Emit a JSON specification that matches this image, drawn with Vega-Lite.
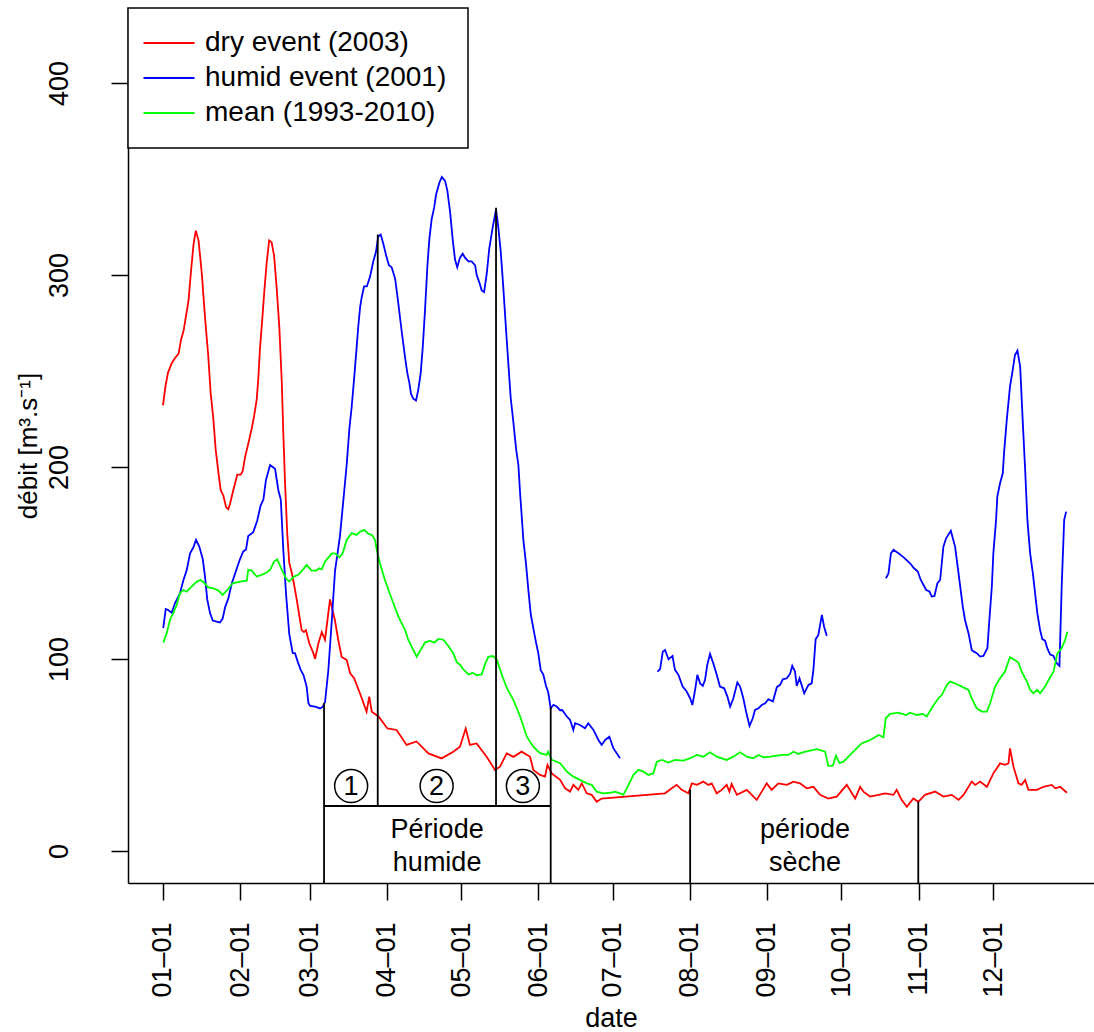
{
"$schema": "https://vega.github.io/schema/vega-lite/v6.json",
"width": 966, "height": 875,
"autosize": "none",
"padding": {"left": 128, "top": 8, "right": 0, "bottom": 149},
"background": "white",
"config": {"view": {"stroke": null}, "font": "Liberation Sans", "legend": {"strokeWidth": 1.5}},
"datasets": {
"segments": [
 {"d1": 64.8, "d2": 64.8, "q1": 77, "q2": -16.7},
 {"d1": 86.4, "d2": 86.4, "q1": 321, "q2": 23.4},
 {"d1": 134, "d2": 134, "q1": 335, "q2": 23.4},
 {"d1": 156, "d2": 156, "q1": 75, "q2": -16.7},
 {"d1": 64.8, "d2": 156, "q1": 23.4, "q2": 23.4},
 {"d1": 212.1, "d2": 212.1, "q1": 32, "q2": -16.7},
 {"d1": 303.9, "d2": 303.9, "q1": 25.7, "q2": -16.7}
],
"phases": [
 {"day": 75.7, "flow": 33.8, "label": "1"},
 {"day": 110.1, "flow": 33.8, "label": "2"},
 {"day": 144.8, "flow": 33.8, "label": "3"}
],
"texts": [
 {"day": 110.3, "flow": 10.9, "label": "Période"},
 {"day": 110.3, "flow": -6.3, "label": "humide"},
 {"day": 258.3, "flow": 10.9, "label": "période"},
 {"day": 258.3, "flow": -6.3, "label": "sèche"}
],
"flows": [
{"series":"dry event (2003)","day":0,"flow":232},{"series":"dry event (2003)","day":1,"flow":242},{"series":"dry event (2003)","day":2,"flow":249},{"series":"dry event (2003)","day":3.5,"flow":254},{"series":"dry event (2003)","day":5,"flow":257},{"series":"dry event (2003)","day":6.3,"flow":259},{"series":"dry event (2003)","day":7.2,"flow":266},{"series":"dry event (2003)","day":8.3,"flow":271},{"series":"dry event (2003)","day":10.3,"flow":287},{"series":"dry event (2003)","day":11.2,"flow":301},{"series":"dry event (2003)","day":12.3,"flow":316},{"series":"dry event (2003)","day":13.2,"flow":323},{"series":"dry event (2003)","day":14.3,"flow":318},{"series":"dry event (2003)","day":15.6,"flow":301},{"series":"dry event (2003)","day":16.9,"flow":278},{"series":"dry event (2003)","day":18.2,"flow":258},{"series":"dry event (2003)","day":19.2,"flow":238},{"series":"dry event (2003)","day":20.2,"flow":226},{"series":"dry event (2003)","day":21.2,"flow":209},{"series":"dry event (2003)","day":22.3,"flow":197},{"series":"dry event (2003)","day":23.2,"flow":188},{"series":"dry event (2003)","day":24.3,"flow":185},{"series":"dry event (2003)","day":25.4,"flow":179},{"series":"dry event (2003)","day":26.3,"flow":178},{"series":"dry event (2003)","day":27,"flow":181},{"series":"dry event (2003)","day":28.3,"flow":188},{"series":"dry event (2003)","day":29.9,"flow":196},{"series":"dry event (2003)","day":31.3,"flow":196},{"series":"dry event (2003)","day":32.1,"flow":198},{"series":"dry event (2003)","day":33,"flow":205},{"series":"dry event (2003)","day":34.3,"flow":212},{"series":"dry event (2003)","day":35.7,"flow":220},{"series":"dry event (2003)","day":36.6,"flow":226},{"series":"dry event (2003)","day":37.7,"flow":235},{"series":"dry event (2003)","day":38.4,"flow":247},{"series":"dry event (2003)","day":39,"flow":261},{"series":"dry event (2003)","day":40,"flow":278},{"series":"dry event (2003)","day":40.8,"flow":292},{"series":"dry event (2003)","day":41.7,"flow":306},{"series":"dry event (2003)","day":42.7,"flow":318},{"series":"dry event (2003)","day":43.7,"flow":317},{"series":"dry event (2003)","day":44.7,"flow":310},{"series":"dry event (2003)","day":45.7,"flow":294},{"series":"dry event (2003)","day":46.8,"flow":273},{"series":"dry event (2003)","day":47.8,"flow":244},{"series":"dry event (2003)","day":48.4,"flow":218},{"series":"dry event (2003)","day":49.1,"flow":192},{"series":"dry event (2003)","day":50,"flow":165},{"series":"dry event (2003)","day":50.8,"flow":150},{"series":"dry event (2003)","day":51.8,"flow":145},{"series":"dry event (2003)","day":52.7,"flow":139},{"series":"dry event (2003)","day":53.8,"flow":131},{"series":"dry event (2003)","day":54.9,"flow":122},{"series":"dry event (2003)","day":55.8,"flow":115},{"series":"dry event (2003)","day":56.7,"flow":114},{"series":"dry event (2003)","day":57.5,"flow":115},{"series":"dry event (2003)","day":58.9,"flow":108},{"series":"dry event (2003)","day":60.5,"flow":103},{"series":"dry event (2003)","day":61.2,"flow":100},{"series":"dry event (2003)","day":62.5,"flow":108},{"series":"dry event (2003)","day":63.9,"flow":114},{"series":"dry event (2003)","day":65.2,"flow":110},{"series":"dry event (2003)","day":67.2,"flow":131},{"series":"dry event (2003)","day":69.2,"flow":120},{"series":"dry event (2003)","day":70.5,"flow":110},{"series":"dry event (2003)","day":71.9,"flow":101},{"series":"dry event (2003)","day":73.9,"flow":99.5},{"series":"dry event (2003)","day":75.3,"flow":92.5},{"series":"dry event (2003)","day":76.9,"flow":90},{"series":"dry event (2003)","day":80,"flow":79.5},{"series":"dry event (2003)","day":81.9,"flow":72.5},{"series":"dry event (2003)","day":83,"flow":80.4},{"series":"dry event (2003)","day":84,"flow":72.5},{"series":"dry event (2003)","day":86.7,"flow":70},{"series":"dry event (2003)","day":90.3,"flow":63.8},{"series":"dry event (2003)","day":94,"flow":63},{"series":"dry event (2003)","day":98,"flow":55.2},{"series":"dry event (2003)","day":102,"flow":57},{"series":"dry event (2003)","day":106.8,"flow":50.8},{"series":"dry event (2003)","day":112.1,"flow":48.2},{"series":"dry event (2003)","day":116.8,"flow":51.7},{"series":"dry event (2003)","day":119.5,"flow":54.3},{"series":"dry event (2003)","day":121.8,"flow":63.8},{"series":"dry event (2003)","day":123.5,"flow":55.2},{"series":"dry event (2003)","day":126.2,"flow":56},{"series":"dry event (2003)","day":130.2,"flow":49.1},{"series":"dry event (2003)","day":133.6,"flow":42.2},{"series":"dry event (2003)","day":135.6,"flow":43.9},{"series":"dry event (2003)","day":138.3,"flow":50.8},{"series":"dry event (2003)","day":141,"flow":49},{"series":"dry event (2003)","day":144.3,"flow":51.7},{"series":"dry event (2003)","day":147.7,"flow":49},{"series":"dry event (2003)","day":149,"flow":42.2},{"series":"dry event (2003)","day":151.7,"flow":39.6},{"series":"dry event (2003)","day":153.7,"flow":38.7},{"series":"dry event (2003)","day":154.7,"flow":44.8},{"series":"dry event (2003)","day":156.4,"flow":40.4},{"series":"dry event (2003)","day":159.8,"flow":37},{"series":"dry event (2003)","day":161.8,"flow":32.6},{"series":"dry event (2003)","day":163.8,"flow":30.9},{"series":"dry event (2003)","day":165.1,"flow":34.4},{"series":"dry event (2003)","day":167.1,"flow":31.8},{"series":"dry event (2003)","day":168.5,"flow":35.2},{"series":"dry event (2003)","day":170.5,"flow":30},{"series":"dry event (2003)","day":172.5,"flow":29.2},{"series":"dry event (2003)","day":174.5,"flow":25.6},{"series":"dry event (2003)","day":176.5,"flow":27.3},{"series":"dry event (2003)","day":202,"flow":30},{"series":"dry event (2003)","day":204.7,"flow":32.6},{"series":"dry event (2003)","day":206.7,"flow":34.4},{"series":"dry event (2003)","day":208.7,"flow":31.8},{"series":"dry event (2003)","day":211.4,"flow":30},{"series":"dry event (2003)","day":212.8,"flow":35.2},{"series":"dry event (2003)","day":214.8,"flow":34.4},{"series":"dry event (2003)","day":217.4,"flow":36.1},{"series":"dry event (2003)","day":219.4,"flow":34.4},{"series":"dry event (2003)","day":220.8,"flow":35.2},{"series":"dry event (2003)","day":222.8,"flow":30},{"series":"dry event (2003)","day":224.8,"flow":31.8},{"series":"dry event (2003)","day":226.8,"flow":34.4},{"series":"dry event (2003)","day":227.9,"flow":30.9},{"series":"dry event (2003)","day":228.8,"flow":34.9},{"series":"dry event (2003)","day":230.9,"flow":29.2},{"series":"dry event (2003)","day":234.9,"flow":31.8},{"series":"dry event (2003)","day":236.9,"flow":29.2},{"series":"dry event (2003)","day":238.9,"flow":26.6},{"series":"dry event (2003)","day":240.9,"flow":30.9},{"series":"dry event (2003)","day":242.9,"flow":35.2},{"series":"dry event (2003)","day":244.9,"flow":31.8},{"series":"dry event (2003)","day":247.6,"flow":35.2},{"series":"dry event (2003)","day":251,"flow":34.4},{"series":"dry event (2003)","day":253.7,"flow":36.1},{"series":"dry event (2003)","day":256.3,"flow":35.2},{"series":"dry event (2003)","day":259,"flow":32.6},{"series":"dry event (2003)","day":261.7,"flow":33.4},{"series":"dry event (2003)","day":264.4,"flow":29.2},{"series":"dry event (2003)","day":267.7,"flow":27.3},{"series":"dry event (2003)","day":271.1,"flow":28.3},{"series":"dry event (2003)","day":275.1,"flow":34.4},{"series":"dry event (2003)","day":278.5,"flow":27.3},{"series":"dry event (2003)","day":280.5,"flow":33.4},{"series":"dry event (2003)","day":281.8,"flow":30.9},{"series":"dry event (2003)","day":284.5,"flow":28.3},{"series":"dry event (2003)","day":287.9,"flow":29.2},{"series":"dry event (2003)","day":290.5,"flow":30},{"series":"dry event (2003)","day":293.9,"flow":29.2},{"series":"dry event (2003)","day":295.2,"flow":31.8},{"series":"dry event (2003)","day":297.2,"flow":26.6},{"series":"dry event (2003)","day":299.3,"flow":23},{"series":"dry event (2003)","day":301.9,"flow":27.3},{"series":"dry event (2003)","day":303.9,"flow":25.6},{"series":"dry event (2003)","day":306.6,"flow":29.2},{"series":"dry event (2003)","day":310.7,"flow":30.9},{"series":"dry event (2003)","day":314,"flow":28.3},{"series":"dry event (2003)","day":317.4,"flow":29.2},{"series":"dry event (2003)","day":320.1,"flow":26.6},{"series":"dry event (2003)","day":322.1,"flow":29.2},{"series":"dry event (2003)","day":325.4,"flow":36.1},{"series":"dry event (2003)","day":326.8,"flow":34.4},{"series":"dry event (2003)","day":328.8,"flow":36.1},{"series":"dry event (2003)","day":331.5,"flow":33.4},{"series":"dry event (2003)","day":334.1,"flow":40.4},{"series":"dry event (2003)","day":336.8,"flow":45.6},{"series":"dry event (2003)","day":338.8,"flow":44.8},{"series":"dry event (2003)","day":340.2,"flow":45.6},{"series":"dry event (2003)","day":340.8,"flow":53.4},{"series":"dry event (2003)","day":342.2,"flow":43.9},{"series":"dry event (2003)","day":344.2,"flow":35.2},{"series":"dry event (2003)","day":345.5,"flow":34.4},{"series":"dry event (2003)","day":346.9,"flow":37},{"series":"dry event (2003)","day":348.2,"flow":31.8},{"series":"dry event (2003)","day":351.6,"flow":31.8},{"series":"dry event (2003)","day":354.3,"flow":33.4},{"series":"dry event (2003)","day":357.6,"flow":34.4},{"series":"dry event (2003)","day":359,"flow":32.6},{"series":"dry event (2003)","day":361,"flow":33.4},{"series":"dry event (2003)","day":363.7,"flow":30.3},
{"series":"humid event (2001)","day":0.1,"flow":116},{"series":"humid event (2001)","day":1.1,"flow":126},{"series":"humid event (2001)","day":2.1,"flow":125.5},{"series":"humid event (2001)","day":3.5,"flow":124},{"series":"humid event (2001)","day":4.8,"flow":129},{"series":"humid event (2001)","day":6.8,"flow":134},{"series":"humid event (2001)","day":8.2,"flow":141},{"series":"humid event (2001)","day":9.5,"flow":146},{"series":"humid event (2001)","day":10.9,"flow":155},{"series":"humid event (2001)","day":12.2,"flow":158},{"series":"humid event (2001)","day":13.3,"flow":162},{"series":"humid event (2001)","day":14.6,"flow":158.5},{"series":"humid event (2001)","day":16,"flow":152},{"series":"humid event (2001)","day":16.9,"flow":143},{"series":"humid event (2001)","day":17.8,"flow":131},{"series":"humid event (2001)","day":18.9,"flow":124},{"series":"humid event (2001)","day":20,"flow":120},{"series":"humid event (2001)","day":21.6,"flow":119.4},{"series":"humid event (2001)","day":22.9,"flow":119},{"series":"humid event (2001)","day":24,"flow":121},{"series":"humid event (2001)","day":25,"flow":127},{"series":"humid event (2001)","day":26.3,"flow":131.5},{"series":"humid event (2001)","day":27.6,"flow":139},{"series":"humid event (2001)","day":29.4,"flow":146},{"series":"humid event (2001)","day":31,"flow":152},{"series":"humid event (2001)","day":32.3,"flow":156},{"series":"humid event (2001)","day":33.4,"flow":157},{"series":"humid event (2001)","day":34.3,"flow":164},{"series":"humid event (2001)","day":36.3,"flow":166},{"series":"humid event (2001)","day":37.9,"flow":172},{"series":"humid event (2001)","day":39.3,"flow":180},{"series":"humid event (2001)","day":40.4,"flow":183},{"series":"humid event (2001)","day":41.4,"flow":193},{"series":"humid event (2001)","day":43.1,"flow":201},{"series":"humid event (2001)","day":45.1,"flow":199},{"series":"humid event (2001)","day":46.4,"flow":188},{"series":"humid event (2001)","day":47.4,"flow":183},{"series":"humid event (2001)","day":48.4,"flow":157},{"series":"humid event (2001)","day":49.5,"flow":134},{"series":"humid event (2001)","day":50.8,"flow":113},{"series":"humid event (2001)","day":52.2,"flow":103},{"series":"humid event (2001)","day":53.1,"flow":103},{"series":"humid event (2001)","day":54.2,"flow":98.6},{"series":"humid event (2001)","day":55.4,"flow":94.3},{"series":"humid event (2001)","day":56.5,"flow":91.7},{"series":"humid event (2001)","day":57.8,"flow":85.6},{"series":"humid event (2001)","day":58.5,"flow":77},{"series":"humid event (2001)","day":59.2,"flow":75.5},{"series":"humid event (2001)","day":61.2,"flow":75.1},{"series":"humid event (2001)","day":63.2,"flow":74.2},{"series":"humid event (2001)","day":64.3,"flow":75.1},{"series":"humid event (2001)","day":65.2,"flow":77.5},{"series":"humid event (2001)","day":66.5,"flow":93.7},{"series":"humid event (2001)","day":67.9,"flow":119.6},{"series":"humid event (2001)","day":69.2,"flow":145.6},{"series":"humid event (2001)","day":71.2,"flow":164},{"series":"humid event (2001)","day":72.6,"flow":183},{"series":"humid event (2001)","day":73.9,"flow":201},{"series":"humid event (2001)","day":75,"flow":220},{"series":"humid event (2001)","day":75.9,"flow":231},{"series":"humid event (2001)","day":76.9,"flow":246},{"series":"humid event (2001)","day":77.9,"flow":262},{"series":"humid event (2001)","day":78.6,"flow":273.5},{"series":"humid event (2001)","day":79.3,"flow":283},{"series":"humid event (2001)","day":79.9,"flow":288},{"series":"humid event (2001)","day":80.9,"flow":294},{"series":"humid event (2001)","day":82,"flow":294},{"series":"humid event (2001)","day":83.3,"flow":299},{"series":"humid event (2001)","day":84.6,"flow":307},{"series":"humid event (2001)","day":85.7,"flow":312},{"series":"humid event (2001)","day":86.6,"flow":320},{"series":"humid event (2001)","day":87.6,"flow":321},{"series":"humid event (2001)","day":88.7,"flow":316},{"series":"humid event (2001)","day":90,"flow":309},{"series":"humid event (2001)","day":90.9,"flow":305},{"series":"humid event (2001)","day":92,"flow":304},{"series":"humid event (2001)","day":93.4,"flow":298},{"series":"humid event (2001)","day":94.7,"flow":285},{"series":"humid event (2001)","day":96.1,"flow":270},{"series":"humid event (2001)","day":97.4,"flow":257},{"series":"humid event (2001)","day":98.3,"flow":249},{"series":"humid event (2001)","day":99.1,"flow":244},{"series":"humid event (2001)","day":99.8,"flow":238},{"series":"humid event (2001)","day":100.7,"flow":235.5},{"series":"humid event (2001)","day":101.8,"flow":234.6},{"series":"humid event (2001)","day":102.7,"flow":240},{"series":"humid event (2001)","day":103.7,"flow":249},{"series":"humid event (2001)","day":104.5,"flow":262},{"series":"humid event (2001)","day":105.4,"flow":281},{"series":"humid event (2001)","day":106.4,"flow":305},{"series":"humid event (2001)","day":107.2,"flow":319},{"series":"humid event (2001)","day":108.1,"flow":329},{"series":"humid event (2001)","day":109.1,"flow":335},{"series":"humid event (2001)","day":109.9,"flow":342},{"series":"humid event (2001)","day":111.2,"flow":348},{"series":"humid event (2001)","day":112.2,"flow":351},{"series":"humid event (2001)","day":113.5,"flow":349},{"series":"humid event (2001)","day":114.4,"flow":344},{"series":"humid event (2001)","day":115.5,"flow":333},{"series":"humid event (2001)","day":116.6,"flow":318},{"series":"humid event (2001)","day":117.5,"flow":308},{"series":"humid event (2001)","day":118.4,"flow":304},{"series":"humid event (2001)","day":119.5,"flow":309},{"series":"humid event (2001)","day":120.6,"flow":311},{"series":"humid event (2001)","day":121.5,"flow":309},{"series":"humid event (2001)","day":122.9,"flow":307},{"series":"humid event (2001)","day":124.2,"flow":307},{"series":"humid event (2001)","day":125.6,"flow":305},{"series":"humid event (2001)","day":126.2,"flow":300},{"series":"humid event (2001)","day":127.3,"flow":296},{"series":"humid event (2001)","day":128.2,"flow":292},{"series":"humid event (2001)","day":129.2,"flow":291},{"series":"humid event (2001)","day":130.3,"flow":301},{"series":"humid event (2001)","day":131.3,"flow":314},{"series":"humid event (2001)","day":132.7,"flow":325},{"series":"humid event (2001)","day":134,"flow":334},{"series":"humid event (2001)","day":134.9,"flow":325},{"series":"humid event (2001)","day":135.9,"flow":312},{"series":"humid event (2001)","day":136.9,"flow":294},{"series":"humid event (2001)","day":138,"flow":272},{"series":"humid event (2001)","day":139,"flow":253},{"series":"humid event (2001)","day":139.9,"flow":236},{"series":"humid event (2001)","day":141,"flow":223},{"series":"humid event (2001)","day":142.1,"flow":209},{"series":"humid event (2001)","day":143,"flow":201},{"series":"humid event (2001)","day":143.7,"flow":186},{"series":"humid event (2001)","day":144.3,"flow":175},{"series":"humid event (2001)","day":145,"flow":162},{"series":"humid event (2001)","day":146.1,"flow":149},{"series":"humid event (2001)","day":147,"flow":136},{"series":"humid event (2001)","day":148,"flow":123},{"series":"humid event (2001)","day":149,"flow":116},{"series":"humid event (2001)","day":150.1,"flow":108.5},{"series":"humid event (2001)","day":151,"flow":103},{"series":"humid event (2001)","day":152,"flow":94},{"series":"humid event (2001)","day":153,"flow":92},{"series":"humid event (2001)","day":154.1,"flow":86},{"series":"humid event (2001)","day":155,"flow":82.6},{"series":"humid event (2001)","day":156,"flow":74.2},{"series":"humid event (2001)","day":157.1,"flow":76.1},{"series":"humid event (2001)","day":158.4,"flow":75.2},{"series":"humid event (2001)","day":159.8,"flow":73.3},{"series":"humid event (2001)","day":160.6,"flow":73.4},{"series":"humid event (2001)","day":162.5,"flow":70},{"series":"humid event (2001)","day":163.8,"flow":68.2},{"series":"humid event (2001)","day":165.1,"flow":63},{"series":"humid event (2001)","day":165.8,"flow":66.5},{"series":"humid event (2001)","day":167.8,"flow":65.6},{"series":"humid event (2001)","day":169.8,"flow":63.9},{"series":"humid event (2001)","day":171.1,"flow":66.5},{"series":"humid event (2001)","day":173.2,"flow":63},{"series":"humid event (2001)","day":175.2,"flow":57.8},{"series":"humid event (2001)","day":176.5,"flow":55.2},{"series":"humid event (2001)","day":177.9,"flow":57.8},{"series":"humid event (2001)","day":179.6,"flow":59.5},{"series":"humid event (2001)","day":181.2,"flow":53.5},{"series":"humid event (2001)","day":183.9,"flow":48.3},
{"series":"humid event (2001)","day":190,"flow":null},
{"series":"humid event (2001)","day":198.9,"flow":93.4},{"series":"humid event (2001)","day":200,"flow":94.6},{"series":"humid event (2001)","day":201.1,"flow":103.8},{"series":"humid event (2001)","day":202,"flow":104.7},{"series":"humid event (2001)","day":203.4,"flow":99.8},{"series":"humid event (2001)","day":205,"flow":101.6},{"series":"humid event (2001)","day":206,"flow":94.3},{"series":"humid event (2001)","day":207.4,"flow":91.7},{"series":"humid event (2001)","day":209.1,"flow":85.6},{"series":"humid event (2001)","day":210.7,"flow":83},{"series":"humid event (2001)","day":212.1,"flow":79.5},{"series":"humid event (2001)","day":213,"flow":76},{"series":"humid event (2001)","day":214.1,"flow":83.9},{"series":"humid event (2001)","day":215,"flow":91.7},{"series":"humid event (2001)","day":216.1,"flow":87.3},{"series":"humid event (2001)","day":217.2,"flow":85.9},{"series":"humid event (2001)","day":218.1,"flow":89.1},{"series":"humid event (2001)","day":219,"flow":96.9},{"series":"humid event (2001)","day":220.1,"flow":102.6},{"series":"humid event (2001)","day":221.4,"flow":97.8},{"series":"humid event (2001)","day":222.8,"flow":91.7},{"series":"humid event (2001)","day":224.1,"flow":85.6},{"series":"humid event (2001)","day":225.8,"flow":84.7},{"series":"humid event (2001)","day":227.1,"flow":80.4},{"series":"humid event (2001)","day":228.2,"flow":75.2},{"series":"humid event (2001)","day":229.5,"flow":79.5},{"series":"humid event (2001)","day":231.1,"flow":87.7},{"series":"humid event (2001)","day":232.2,"flow":85.6},{"series":"humid event (2001)","day":233.5,"flow":79.5},{"series":"humid event (2001)","day":234.6,"flow":72.6},{"series":"humid event (2001)","day":236,"flow":65.1},{"series":"humid event (2001)","day":237.3,"flow":69.1},{"series":"humid event (2001)","day":238.2,"flow":73.4},{"series":"humid event (2001)","day":239.6,"flow":74.3},{"series":"humid event (2001)","day":240.9,"flow":76},{"series":"humid event (2001)","day":242.3,"flow":76.9},{"series":"humid event (2001)","day":243.6,"flow":79},{"series":"humid event (2001)","day":245.4,"flow":77.8},{"series":"humid event (2001)","day":247,"flow":85.3},{"series":"humid event (2001)","day":248.3,"flow":86.5},{"series":"humid event (2001)","day":249.4,"flow":89.4},{"series":"humid event (2001)","day":251,"flow":89.9},{"series":"humid event (2001)","day":252.3,"flow":92.2},{"series":"humid event (2001)","day":253.2,"flow":96.4},{"series":"humid event (2001)","day":254.3,"flow":93.4},{"series":"humid event (2001)","day":255,"flow":85.9},{"series":"humid event (2001)","day":256.1,"flow":89.9},{"series":"humid event (2001)","day":258,"flow":82.1},{"series":"humid event (2001)","day":259.7,"flow":86.5},{"series":"humid event (2001)","day":261,"flow":87.3},{"series":"humid event (2001)","day":261.7,"flow":94.3},{"series":"humid event (2001)","day":262.6,"flow":110.3},{"series":"humid event (2001)","day":263.7,"flow":112.5},{"series":"humid event (2001)","day":265.1,"flow":122.9},{"series":"humid event (2001)","day":266,"flow":116.8},{"series":"humid event (2001)","day":267.1,"flow":112},
{"series":"humid event (2001)","day":280,"flow":null},
{"series":"humid event (2001)","day":290.9,"flow":142},{"series":"humid event (2001)","day":291.9,"flow":144.6},{"series":"humid event (2001)","day":292.9,"flow":155},{"series":"humid event (2001)","day":293.9,"flow":156.8},{"series":"humid event (2001)","day":295.9,"flow":155},{"series":"humid event (2001)","day":297.9,"flow":153},{"series":"humid event (2001)","day":300.6,"flow":149.8},{"series":"humid event (2001)","day":302.2,"flow":147.2},{"series":"humid event (2001)","day":303.7,"flow":145.5},{"series":"humid event (2001)","day":304.9,"flow":141.1},{"series":"humid event (2001)","day":306,"flow":138.5},{"series":"humid event (2001)","day":307.1,"flow":135.9},{"series":"humid event (2001)","day":308.4,"flow":135.1},{"series":"humid event (2001)","day":309.3,"flow":132.5},{"series":"humid event (2001)","day":310.4,"flow":132.8},{"series":"humid event (2001)","day":311.6,"flow":139.4},{"series":"humid event (2001)","day":312.7,"flow":141.1},{"series":"humid event (2001)","day":314,"flow":158.5},{"series":"humid event (2001)","day":315.1,"flow":162.8},{"series":"humid event (2001)","day":317,"flow":166.8},{"series":"humid event (2001)","day":318.7,"flow":158.5},{"series":"humid event (2001)","day":320.1,"flow":144.6},{"series":"humid event (2001)","day":321.8,"flow":127.2},{"series":"humid event (2001)","day":322.7,"flow":120.3},{"series":"humid event (2001)","day":324.1,"flow":113.4},{"series":"humid event (2001)","day":325.4,"flow":104.7},{"series":"humid event (2001)","day":326.3,"flow":103.8},{"series":"humid event (2001)","day":327.4,"flow":103},{"series":"humid event (2001)","day":328.8,"flow":101.2},{"series":"humid event (2001)","day":330.1,"flow":101.6},{"series":"humid event (2001)","day":331.7,"flow":105.6},{"series":"humid event (2001)","day":332.5,"flow":120.3},{"series":"humid event (2001)","day":333.5,"flow":137.7},{"series":"humid event (2001)","day":334.1,"flow":155},{"series":"humid event (2001)","day":335.2,"flow":172.4},{"series":"humid event (2001)","day":335.7,"flow":184.5},{"series":"humid event (2001)","day":336.8,"flow":191.5},{"series":"humid event (2001)","day":337.9,"flow":196.7},{"series":"humid event (2001)","day":338.4,"flow":207.1},{"series":"humid event (2001)","day":339.5,"flow":224.5},{"series":"humid event (2001)","day":340.8,"flow":241.8},{"series":"humid event (2001)","day":341.9,"flow":250.5},{"series":"humid event (2001)","day":342.8,"flow":258.3},{"series":"humid event (2001)","day":343.8,"flow":260.6},{"series":"humid event (2001)","day":344.9,"flow":252.2},{"series":"humid event (2001)","day":345.9,"flow":224.5},{"series":"humid event (2001)","day":346.9,"flow":198.4},{"series":"humid event (2001)","day":347.8,"flow":172.4},{"series":"humid event (2001)","day":348.9,"flow":155},{"series":"humid event (2001)","day":350,"flow":144.6},{"series":"humid event (2001)","day":350.9,"flow":134.2},{"series":"humid event (2001)","day":351.8,"flow":123.8},{"series":"humid event (2001)","day":352.9,"flow":115.1},{"series":"humid event (2001)","day":353.8,"flow":110.3},{"series":"humid event (2001)","day":354.9,"flow":109.5},{"series":"humid event (2001)","day":355.8,"flow":105.6},{"series":"humid event (2001)","day":356.9,"flow":102.4},{"series":"humid event (2001)","day":358.3,"flow":101.6},{"series":"humid event (2001)","day":359.6,"flow":97.8},{"series":"humid event (2001)","day":360.7,"flow":96.4},{"series":"humid event (2001)","day":361.6,"flow":137.7},{"series":"humid event (2001)","day":362.6,"flow":172.4},{"series":"humid event (2001)","day":363.4,"flow":176.7},
{"series":"mean (1993-2010)","day":0.1,"flow":108.5},{"series":"mean (1993-2010)","day":1.5,"flow":113.4},{"series":"mean (1993-2010)","day":2.8,"flow":120.3},{"series":"mean (1993-2010)","day":4.1,"flow":123.8},{"series":"mean (1993-2010)","day":5.5,"flow":128.1},{"series":"mean (1993-2010)","day":6.8,"flow":134.2},{"series":"mean (1993-2010)","day":8.2,"flow":135.9},{"series":"mean (1993-2010)","day":9.5,"flow":135},{"series":"mean (1993-2010)","day":11.5,"flow":137.7},{"series":"mean (1993-2010)","day":13.6,"flow":140.3},{"series":"mean (1993-2010)","day":15.2,"flow":141.1},{"series":"mean (1993-2010)","day":16.5,"flow":139.7},{"series":"mean (1993-2010)","day":18.2,"flow":137.3},{"series":"mean (1993-2010)","day":20.2,"flow":136.8},{"series":"mean (1993-2010)","day":22.3,"flow":135.6},{"series":"mean (1993-2010)","day":24,"flow":133.3},{"series":"mean (1993-2010)","day":25.9,"flow":135.9},{"series":"mean (1993-2010)","day":28,"flow":139.4},{"series":"mean (1993-2010)","day":31,"flow":140.3},{"series":"mean (1993-2010)","day":33.7,"flow":140.8},{"series":"mean (1993-2010)","day":34.3,"flow":146.4},{"series":"mean (1993-2010)","day":35.7,"flow":146},{"series":"mean (1993-2010)","day":37.7,"flow":142.9},{"series":"mean (1993-2010)","day":39.7,"flow":143.8},{"series":"mean (1993-2010)","day":41.7,"flow":145},{"series":"mean (1993-2010)","day":43.1,"flow":146.4},{"series":"mean (1993-2010)","day":44.7,"flow":150.7},{"series":"mean (1993-2010)","day":46,"flow":151.9},{"series":"mean (1993-2010)","day":47.8,"flow":146.4},{"series":"mean (1993-2010)","day":49.5,"flow":142},{"series":"mean (1993-2010)","day":50.8,"flow":140.3},{"series":"mean (1993-2010)","day":52.7,"flow":142.9},{"series":"mean (1993-2010)","day":54.4,"flow":143.8},{"series":"mean (1993-2010)","day":56.2,"flow":146.4},{"series":"mean (1993-2010)","day":57.8,"flow":149},{"series":"mean (1993-2010)","day":59.8,"flow":146},{"series":"mean (1993-2010)","day":61.6,"flow":146},{"series":"mean (1993-2010)","day":62.9,"flow":147.2},{"series":"mean (1993-2010)","day":63.9,"flow":146.7},{"series":"mean (1993-2010)","day":65.2,"flow":150.7},{"series":"mean (1993-2010)","day":67.9,"flow":155},{"series":"mean (1993-2010)","day":69.2,"flow":155},{"series":"mean (1993-2010)","day":71,"flow":153},{"series":"mean (1993-2010)","day":72.3,"flow":155},{"series":"mean (1993-2010)","day":73.9,"flow":162},{"series":"mean (1993-2010)","day":75.9,"flow":165.5},{"series":"mean (1993-2010)","day":77.9,"flow":164.6},{"series":"mean (1993-2010)","day":79.3,"flow":166.3},{"series":"mean (1993-2010)","day":81,"flow":167.2},{"series":"mean (1993-2010)","day":82.6,"flow":165.1},{"series":"mean (1993-2010)","day":84,"flow":164.6},{"series":"mean (1993-2010)","day":85.3,"flow":162},{"series":"mean (1993-2010)","day":86,"flow":156.8},{"series":"mean (1993-2010)","day":87.3,"flow":149.8},{"series":"mean (1993-2010)","day":89.3,"flow":141.1},{"series":"mean (1993-2010)","day":90.7,"flow":135.9},{"series":"mean (1993-2010)","day":92.7,"flow":129},{"series":"mean (1993-2010)","day":94.7,"flow":122},{"series":"mean (1993-2010)","day":97.4,"flow":115.1},{"series":"mean (1993-2010)","day":98.7,"flow":109.9},{"series":"mean (1993-2010)","day":102.1,"flow":101.1},{"series":"mean (1993-2010)","day":103.7,"flow":104.8},{"series":"mean (1993-2010)","day":105.4,"flow":108.5},{"series":"mean (1993-2010)","day":107.4,"flow":109.5},{"series":"mean (1993-2010)","day":109.1,"flow":108.5},{"series":"mean (1993-2010)","day":110.8,"flow":110.4},{"series":"mean (1993-2010)","day":112.8,"flow":110},{"series":"mean (1993-2010)","day":114.8,"flow":106.7},{"series":"mean (1993-2010)","day":116.8,"flow":103},{"series":"mean (1993-2010)","day":118.2,"flow":98.3},{"series":"mean (1993-2010)","day":119.5,"flow":97},{"series":"mean (1993-2010)","day":120.8,"flow":94.6},{"series":"mean (1993-2010)","day":122.9,"flow":91.9},{"series":"mean (1993-2010)","day":124.6,"flow":92.8},{"series":"mean (1993-2010)","day":126.2,"flow":91.5},{"series":"mean (1993-2010)","day":128.2,"flow":91.9},{"series":"mean (1993-2010)","day":129.6,"flow":97.4},{"series":"mean (1993-2010)","day":130.9,"flow":101.1},{"series":"mean (1993-2010)","day":132.7,"flow":101.5},{"series":"mean (1993-2010)","day":134.3,"flow":99.6},{"series":"mean (1993-2010)","day":136.3,"flow":91.9},{"series":"mean (1993-2010)","day":138.3,"flow":85},{"series":"mean (1993-2010)","day":141,"flow":78.6},{"series":"mean (1993-2010)","day":143.7,"flow":70},{"series":"mean (1993-2010)","day":146.4,"flow":59.5},{"series":"mean (1993-2010)","day":149,"flow":54.3},{"series":"mean (1993-2010)","day":151.7,"flow":50.9},{"series":"mean (1993-2010)","day":154.4,"flow":50},{"series":"mean (1993-2010)","day":155,"flow":51.7},{"series":"mean (1993-2010)","day":156.4,"flow":47.4},{"series":"mean (1993-2010)","day":159.8,"flow":45.7},{"series":"mean (1993-2010)","day":162.5,"flow":41.3},{"series":"mean (1993-2010)","day":165.1,"flow":38.7},{"series":"mean (1993-2010)","day":167.8,"flow":37},{"series":"mean (1993-2010)","day":170.5,"flow":35.2},{"series":"mean (1993-2010)","day":172.5,"flow":34.4},{"series":"mean (1993-2010)","day":174.5,"flow":30.9},{"series":"mean (1993-2010)","day":177.2,"flow":30},{"series":"mean (1993-2010)","day":179.9,"flow":30.3},{"series":"mean (1993-2010)","day":181.9,"flow":30.9},{"series":"mean (1993-2010)","day":183.9,"flow":30},{"series":"mean (1993-2010)","day":185.2,"flow":29.2},{"series":"mean (1993-2010)","day":186.6,"flow":32.6},{"series":"mean (1993-2010)","day":189.3,"flow":39.6},{"series":"mean (1993-2010)","day":191.3,"flow":42.2},{"series":"mean (1993-2010)","day":193.3,"flow":41.3},{"series":"mean (1993-2010)","day":195.3,"flow":39.6},{"series":"mean (1993-2010)","day":197.3,"flow":40.4},{"series":"mean (1993-2010)","day":198.7,"flow":46.5},{"series":"mean (1993-2010)","day":200.7,"flow":47.4},{"series":"mean (1993-2010)","day":203.4,"flow":46},{"series":"mean (1993-2010)","day":206,"flow":47.4},{"series":"mean (1993-2010)","day":209.4,"flow":47},{"series":"mean (1993-2010)","day":212.1,"flow":48.3},{"series":"mean (1993-2010)","day":214.8,"flow":50},{"series":"mean (1993-2010)","day":217.4,"flow":49.1},{"series":"mean (1993-2010)","day":220.1,"flow":51.4},{"series":"mean (1993-2010)","day":222.8,"flow":49.1},{"series":"mean (1993-2010)","day":226.8,"flow":47.4},{"series":"mean (1993-2010)","day":229.5,"flow":49.1},{"series":"mean (1993-2010)","day":232.2,"flow":51.4},{"series":"mean (1993-2010)","day":234.9,"flow":49.1},{"series":"mean (1993-2010)","day":237.5,"flow":48.3},{"series":"mean (1993-2010)","day":239.6,"flow":50},{"series":"mean (1993-2010)","day":241.6,"flow":48.8},{"series":"mean (1993-2010)","day":244.3,"flow":49.1},{"series":"mean (1993-2010)","day":246.9,"flow":49.6},{"series":"mean (1993-2010)","day":249.6,"flow":50},{"series":"mean (1993-2010)","day":251.6,"flow":50},{"series":"mean (1993-2010)","day":253.7,"flow":51.7},{"series":"mean (1993-2010)","day":255.7,"flow":50.5},{"series":"mean (1993-2010)","day":257.7,"flow":51.4},{"series":"mean (1993-2010)","day":260.4,"flow":52.2},{"series":"mean (1993-2010)","day":263.1,"flow":53},{"series":"mean (1993-2010)","day":265.1,"flow":52.2},{"series":"mean (1993-2010)","day":266.4,"flow":51.7},{"series":"mean (1993-2010)","day":267.7,"flow":44.3},{"series":"mean (1993-2010)","day":269.5,"flow":44.4},{"series":"mean (1993-2010)","day":270.8,"flow":49.6},{"series":"mean (1993-2010)","day":272.2,"flow":45.7},{"series":"mean (1993-2010)","day":273.8,"flow":46.5},{"series":"mean (1993-2010)","day":275.8,"flow":49.1},{"series":"mean (1993-2010)","day":277.8,"flow":51.7},{"series":"mean (1993-2010)","day":279.8,"flow":54.3},{"series":"mean (1993-2010)","day":281.2,"flow":56.1},{"series":"mean (1993-2010)","day":283.8,"flow":57.3},{"series":"mean (1993-2010)","day":285.8,"flow":58.7},{"series":"mean (1993-2010)","day":287.9,"flow":60.4},{"series":"mean (1993-2010)","day":289.9,"flow":59.2},{"series":"mean (1993-2010)","day":290.8,"flow":69.1},{"series":"mean (1993-2010)","day":292.6,"flow":71.4},{"series":"mean (1993-2010)","day":295.9,"flow":72},{"series":"mean (1993-2010)","day":299,"flow":70.8},{"series":"mean (1993-2010)","day":300.6,"flow":72},{"series":"mean (1993-2010)","day":303.3,"flow":70.8},{"series":"mean (1993-2010)","day":305.7,"flow":71.4},{"series":"mean (1993-2010)","day":307.3,"flow":70},{"series":"mean (1993-2010)","day":309.7,"flow":75.2},{"series":"mean (1993-2010)","day":312,"flow":79.5},{"series":"mean (1993-2010)","day":313.4,"flow":81.3},{"series":"mean (1993-2010)","day":315.4,"flow":86.5},{"series":"mean (1993-2010)","day":316.7,"flow":88.2},{"series":"mean (1993-2010)","day":318.7,"flow":87.3},{"series":"mean (1993-2010)","day":321.4,"flow":85.6},{"series":"mean (1993-2010)","day":324.1,"flow":83.9},{"series":"mean (1993-2010)","day":325.4,"flow":79.5},{"series":"mean (1993-2010)","day":327.4,"flow":74.3},{"series":"mean (1993-2010)","day":329.5,"flow":72.6},{"series":"mean (1993-2010)","day":331.5,"flow":72.6},{"series":"mean (1993-2010)","day":332.8,"flow":76.9},{"series":"mean (1993-2010)","day":334.8,"flow":85.6},{"series":"mean (1993-2010)","day":336.8,"flow":89.9},{"series":"mean (1993-2010)","day":338.8,"flow":93.4},{"series":"mean (1993-2010)","day":340.8,"flow":100.9},{"series":"mean (1993-2010)","day":342.2,"flow":99.8},{"series":"mean (1993-2010)","day":344.2,"flow":98.1},{"series":"mean (1993-2010)","day":345.5,"flow":93.4},{"series":"mean (1993-2010)","day":347.6,"flow":88.2},{"series":"mean (1993-2010)","day":348.9,"flow":83.9},{"series":"mean (1993-2010)","day":350.2,"flow":82.1},{"series":"mean (1993-2010)","day":351.8,"flow":83.9},{"series":"mean (1993-2010)","day":352.9,"flow":82.1},{"series":"mean (1993-2010)","day":354.9,"flow":85.6},{"series":"mean (1993-2010)","day":356.7,"flow":89.9},{"series":"mean (1993-2010)","day":358.3,"flow":93.4},{"series":"mean (1993-2010)","day":359.9,"flow":103},{"series":"mean (1993-2010)","day":361.6,"flow":105.6},{"series":"mean (1993-2010)","day":363,"flow":109.9},{"series":"mean (1993-2010)","day":363.9,"flow":114.2}
]
},
"layer": [
 {
  "data": {"name": "flows"},
  "mark": {"type": "line", "strokeWidth": 1.8, "invalid": "break-paths-show-domains", "clip": true},
  "encoding": {
   "x": {"field": "day", "type": "quantitative",
         "scale": {"domain": [-14.08, 374.6], "nice": false, "zero": false},
         "axis": {"values": [0,31,59,90,120,151,181,212,243,273,304,334],
                  "labelExpr": "timeFormat(datetime(2001,0,1+datum.value),'%m–%d')",
                  "labelAngle": 270, "labelAlign": "right", "labelBaseline": "middle",
                  "labelPadding": 22, "labelFontSize": 27, "labelColor": "black",
                  "labelOverlap": false, "labelFlush": false,
                  "tickSize": 17, "tickWidth": 1.5, "tickColor": "black",
                  "domainColor": "black", "domainWidth": 1.5, "grid": false,
                  "title": "date", "titleFontSize": 27, "titleFontWeight": "normal",
                  "titleColor": "black", "titlePadding": 8}},
   "y": {"field": "flow", "type": "quantitative",
         "scale": {"domain": [-16.7, 439], "nice": false, "zero": false},
         "axis": {"values": [0,100,200,300,400],
                  "labelAngle": 270, "labelAlign": "center", "labelBaseline": "alphabetic",
                  "labelPadding": 44, "labelFontSize": 27, "labelColor": "black",
                  "tickSize": 17, "tickWidth": 1.5, "tickColor": "black",
                  "domainColor": "black", "domainWidth": 1.5, "grid": false,
                  "title": "débit [m³.s⁻¹]", "titleFontSize": 26, "titleFontWeight": "normal",
                  "titleColor": "black", "titlePadding": 4}},
   "color": {"field": "series", "type": "nominal",
             "scale": {"domain": ["dry event (2003)", "humid event (2001)", "mean (1993-2010)"],
                       "range": ["#ff0000", "#0000ff", "#00ff00"]},
             "legend": {"orient": "none", "legendX": 0, "legendY": 0, "title": null,
                        "strokeColor": "black", "fillColor": "white", "padding": 21,
                        "symbolType": "M-2,0H2", "symbolSize": 650, "symbolStrokeWidth": 1.8,
                        "symbolOffset": 6, "labelOffset": 22, "rowPadding": 7,
                        "labelFontSize": 28, "labelColor": "black", "labelLimit": 500}}
  }
 },
 {
  "data": {"name": "segments"},
  "mark": {"type": "rule", "color": "black", "strokeWidth": 1.8, "clip": true},
  "encoding": {
   "x": {"field": "d1", "type": "quantitative"},
   "x2": {"field": "d2"},
   "y": {"field": "q1", "type": "quantitative"},
   "y2": {"field": "q2"}
  }
 },
 {
  "data": {"name": "phases"},
  "mark": {"type": "point", "shape": "circle", "filled": false, "color": "black", "strokeWidth": 1.5, "size": 1089, "opacity": 1},
  "encoding": {
   "x": {"field": "day", "type": "quantitative"},
   "y": {"field": "flow", "type": "quantitative"}
  }
 },
 {
  "data": {"name": "phases"},
  "mark": {"type": "text", "fontSize": 27, "color": "black", "align": "center", "baseline": "middle", "dy": 1},
  "encoding": {
   "x": {"field": "day", "type": "quantitative"},
   "y": {"field": "flow", "type": "quantitative"},
   "text": {"field": "label"}
  }
 },
 {
  "data": {"name": "texts"},
  "mark": {"type": "text", "fontSize": 27, "color": "black", "align": "center", "baseline": "middle"},
  "encoding": {
   "x": {"field": "day", "type": "quantitative"},
   "y": {"field": "flow", "type": "quantitative"},
   "text": {"field": "label"}
  }
 },
 {
  "mark": {"type": "rule", "color": "black", "strokeWidth": 1.5},
  "encoding": {"y": {"datum": 439}}
 }
]
}
